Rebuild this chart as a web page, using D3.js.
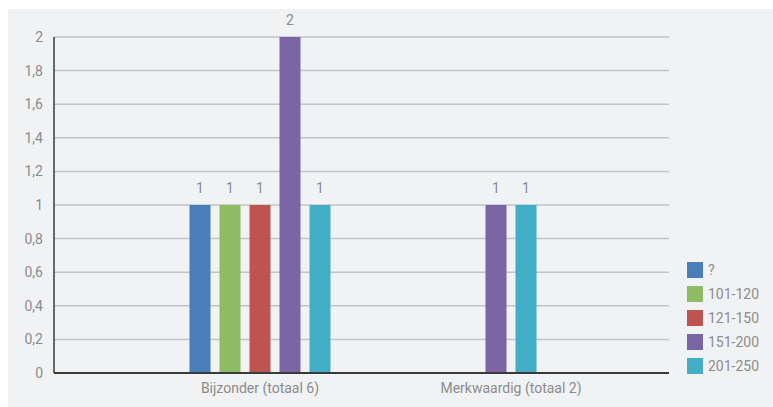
<!DOCTYPE html>
<html><head><meta charset="utf-8">
<script src="https://cdn.jsdelivr.net/npm/d3@7"></script>
<style>
html,body{margin:0;padding:0;background:#fff;}
svg{display:block;}
text{font-family:Roboto, "DejaVu Sans", sans-serif;}
</style></head>
<body>
<script>
const categories = ["Bijzonder (totaal 6)", "Merkwaardig (totaal 2)"];
const seriesNames = ["?", "101-120", "121-150", "151-200", "201-250"];
const seriesColors = ["#4a7ebb", "#8ebb63", "#be5350", "#7a66a5", "#41adc6"];
const valuesQ = [1, null];
const values101 = [1, null];
const values121 = [1, null];
const values151 = [2, 1];
const values201 = [1, 1];
const yTicks = [0, 0.2, 0.4, 0.6, 0.8, 1, 1.2, 1.4, 1.6, 1.8, 2];

const seriesValues = [valuesQ, values101, values121, values151, values201];
const W = 773, H = 407;
const plotL = 54, plotR = 669, plotT = 37, plotB = 373;

const svg = d3.select("body").append("svg").attr("width", W).attr("height", H);
svg.append("rect").attr("x", 8).attr("y", 9).attr("width", W - 8).attr("height", H - 9).attr("fill", "#f1f2f4");

const y = d3.scaleLinear().domain([0, 2]).range([plotB, plotT]);
const xc = d3.scalePoint().domain(categories).range([260, 511]);
const loc = d3.formatLocale({decimal: ",", thousands: ".", grouping: [3], currency: ["€", ""]});
const fmt = loc.format("~g");

// gridlines
svg.append("g").selectAll("line").data(yTicks.filter(t => t > 0)).join("line")
  .attr("x1", plotL).attr("x2", plotR)
  .attr("y1", d => y(d)).attr("y2", d => y(d))
  .attr("stroke", "#c3c4c7").attr("stroke-width", 1.5);

// y axis labels
const yAxis = d3.axisLeft(y).tickValues(yTicks).tickFormat(fmt).tickSize(0).tickPadding(11);
const gy = svg.append("g").attr("transform", `translate(${plotL},0)`).call(yAxis);
gy.select(".domain").remove();
gy.selectAll("text").attr("fill", "#8c8c8c").attr("font-size", 14);

// bars
const step = 30, bw = 21;
categories.forEach((cat, ci) => {
  const present = seriesNames.map((s, si) => ({s, si, v: seriesValues[si][ci]})).filter(d => d.v != null);
  const inner = d3.scaleBand().domain(present.map(d => d.s))
    .range([xc(cat) - step * present.length / 2, xc(cat) + step * present.length / 2])
    .paddingInner(0.3).paddingOuter(0.15);
  const g = svg.append("g");
  g.selectAll("rect").data(present).join("rect")
    .attr("x", d => inner(d.s) + inner.bandwidth() / 2 - bw / 2)
    .attr("width", bw)
    .attr("y", d => y(d.v))
    .attr("height", d => y(0) - y(d.v))
    .attr("fill", d => seriesColors[d.si]);
  g.selectAll("text").data(present).join("text")
    .attr("x", d => inner(d.s) + inner.bandwidth() / 2)
    .attr("y", d => y(d.v) - 12)
    .attr("text-anchor", "middle")
    .attr("fill", "#8c8c8c").attr("font-size", 14)
    .text(d => fmt(d.v));
});

// axes lines
svg.append("line").attr("x1", plotL).attr("x2", plotL).attr("y1", plotT).attr("y2", plotB)
  .attr("stroke", "#3a3a3a").attr("stroke-width", 1.5);
svg.append("line").attr("x1", plotL).attr("x2", plotR).attr("y1", plotB).attr("y2", plotB)
  .attr("stroke", "#3a3a3a").attr("stroke-width", 2);

// x labels
svg.append("g").selectAll("text").data(categories).join("text")
  .attr("x", d => xc(d)).attr("y", plotB + 20)
  .attr("text-anchor", "middle").attr("fill", "#8c8c8c").attr("font-size", 14)
  .text(d => d);

// legend
const lg = svg.append("g").attr("transform", "translate(687,262)");
const li = lg.selectAll("g").data(seriesNames).join("g").attr("transform", (d, i) => `translate(0,${i * 24})`);
li.append("rect").attr("width", 16).attr("height", 16).attr("fill", (d, i) => seriesColors[i]);
li.append("text").attr("x", 21).attr("y", 13).attr("fill", "#8c8c8c").attr("font-size", 14).text(d => d);
</script>
</body></html>
